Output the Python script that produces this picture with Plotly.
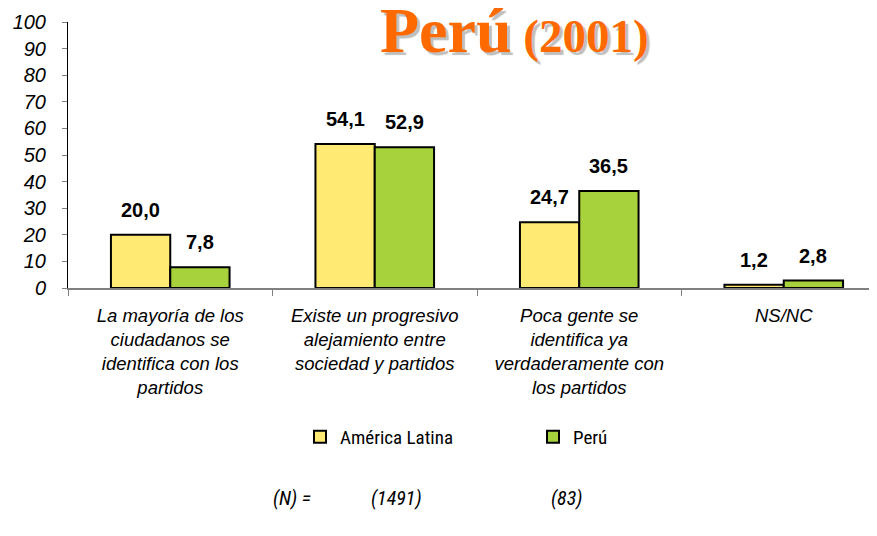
import plotly.graph_objects as go

categories = [
    "La mayoría de los<br>ciudadanos se<br>identifica con los<br>partidos",
    "Existe un progresivo<br>alejamiento entre<br>sociedad y partidos",
    "Poca gente se<br>identifica ya<br>verdaderamente con<br>los partidos",
    "NS/NC",
]
series_names = ["América Latina", "Perú"]
america_latina = [20.0, 54.1, 24.7, 1.2]
peru = [7.8, 52.9, 36.5, 2.8]
n_labels = ["(N) =", "(1491)", "(83)"]
y_ticks = [0, 10, 20, 30, 40, 50, 60, 70, 80, 90, 100]

# page body has an 8px margin: figure is drawn offset by (8, 8)
OFF = 8
SW, SH = 877, 536
W, H = SW - OFF, SH - OFF
PL, PR, PT, PB = 68, 877, 22, 288        # plot area in screen pixels
L, T = PL - OFF, PT - OFF
R, B = SW - PR, SH - PB
PW, PH = PR - PL, PB - PT

NARROW = "Liberation Sans Narrow, Arial Narrow, Roboto Condensed, DejaVu Sans Condensed, Liberation Sans"

def px(x):
    return (x - PL) / PW

def py(y):
    return (PB - y) / PH

def fmt(v):
    return f"{v:.1f}".replace(".", ",")

BARGAP = 0.42
cat_px = PW / (4 - 9 / 204.5)
bar_px = cat_px * (1 - BARGAP) / 2

fig = go.Figure()
colors = ["#FFEA74", "#A8D23C"]
for i, (name, vals, col) in enumerate(zip(series_names, [america_latina, peru], colors)):
    fig.add_trace(go.Bar(
        name=name, x=categories, y=vals,
        marker=dict(color=col, line=dict(color="black", width=2)),
    ))
    shift = (-0.5 if i == 0 else 0.5) * bar_px
    for c, v in zip(categories, vals):
        fig.add_annotation(x=c, y=v, xref="x", yref="y", text=fmt(v), showarrow=False,
                           xanchor="center", yanchor="bottom", xshift=shift, yshift=12,
                           font=dict(family="Liberation Sans, Arial", size=20, color="black",
                                     weight="bold"))

fig.update_layout(
    width=W, height=H,
    margin=dict(l=L, r=R, t=T, b=B, autoexpand=False),
    paper_bgcolor="white", plot_bgcolor="white",
    barmode="group", bargap=BARGAP, bargroupgap=0,
    showlegend=True,
    legend=dict(orientation="h", x=px(300), y=py(437), xanchor="left", yanchor="middle",
                entrywidth=188, entrywidthmode="pixels",
                font=dict(family=NARROW, size=19, color="black")),
    xaxis=dict(type="category", range=[-0.5, 3.5 - 9 / 204.5], automargin=False,
               showline=True, linecolor="#808080", linewidth=1.5,
               ticks="outside", tickson="boundaries", ticklen=6, tickcolor="#808080",
               ticklabelstandoff=10,
               tickfont=dict(family="Liberation Sans, Arial", size=18.5, color="black", style="italic"),
               showgrid=False),
    yaxis=dict(range=[0, 100], tickvals=y_ticks, showline=True, linecolor="#000000", linewidth=1,
               automargin=False,
               ticks="outside", ticklen=5, tickcolor="#808080",
               showgrid=False, zeroline=False, ticklabelstandoff=12,
               tickfont=dict(family="Liberation Sans, Arial", size=20, color="black", style="italic")),
)

title_html = ("<b><span style='font-size:64px'>Perú</span>"
              "<span style='font-size:47px'> (2001)</span></b>")
fig.add_annotation(text=title_html, xref="paper", yref="paper",
                   x=px(514), y=py(30), xanchor="center", yanchor="middle",
                   showarrow=False,
                   font=dict(family="Liberation Serif, Times New Roman", color="#FF6A00",
                             shadow="3px 3px 1px #BFBFBF"))

n_x = [292, 396, 566]
for lbl, xx in zip(n_labels, n_x):
    fig.add_annotation(text=lbl, xref="paper", yref="paper", x=px(xx), y=py(498),
                       xanchor="center", yanchor="middle", showarrow=False,
                       font=dict(family=NARROW, size=20, color="black", style="italic"))

fig.write_html("out.html")
